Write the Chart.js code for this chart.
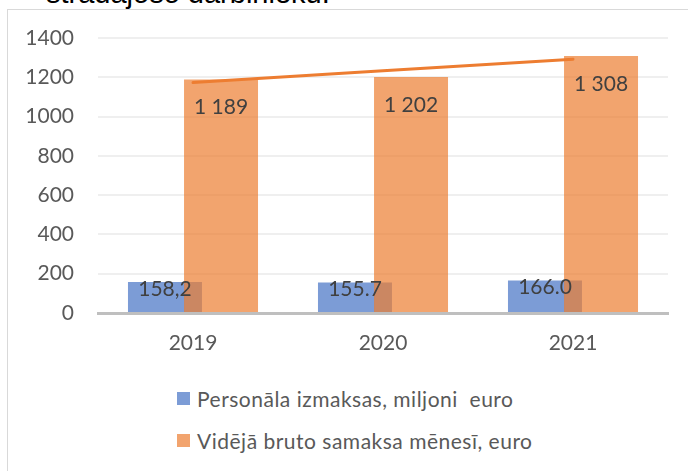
<!DOCTYPE html>
<html>
<head>
<meta charset="utf-8">
<script src="https://cdn.jsdelivr.net/npm/chart.js@4/dist/chart.umd.min.js"></script>
<style>
  html, body { margin: 0; padding: 0; background: #fff; }
  body { width: 688px; height: 471px; overflow: hidden; position: relative; }
  .caption {
    position: absolute; left: 46px; top: -23px;
    font: 29px "Liberation Sans", Arial, sans-serif; color: #000; white-space: nowrap;
  }
  .frame {
    position: absolute; left: 7px; top: 9px; width: 700px; height: 480px;
    border: 1px solid #d9d9d9; box-sizing: border-box; background: #fff;
  }
  .chart-box { position: absolute; left: 0; top: 0; width: 688px; height: 370px; }
  #legend { position: absolute; left: 177px; top: 384px; font: 21px Lato, sans-serif; letter-spacing: 0.5px; color: #595959; }
  #legend .item { display: flex; align-items: center; height: 28px; margin-bottom: 14px; white-space: pre; }
  #legend .swatch { width: 13px; height: 13px; margin-right: 7px; }
</style>
</head>
<body>
<div class="frame"></div>
<div class="caption">strādājošo darbinieku.</div>
<div class="chart-box"><canvas id="myChart"></canvas></div>
<div id="legend"></div>
<script>
const years = ['2019', '2020', '2021'];
const staffCosts = [158.2, 155.7, 166.0];            // miljoni euro
const staffCostLabels = ['158,2', '155.7', '166.0'];
const avgWage = [1189, 1202, 1308];                  // euro mēnesī
const avgWageLabels = ['1 189', '1 202', '1 308'];
const wageTrend = [1173, 1233, 1292];                // trend line
const yTicks = [0, 200, 400, 600, 800, 1000, 1200, 1400];

const FONT = 'Lato, sans-serif';

// draw the blue bars first so the orange ones overlap them
const blueUnder = {
    id: 'blueUnder',
    beforeDatasetsDraw(chart) {
        chart.getDatasetMeta(0).controller.draw();
    },
    beforeDatasetDraw(chart, args) {
        if (args.index === 0) return false;
    }
};

// value labels inside the bars
const barLabels = {
    id: 'barLabels',
    afterDatasetsDraw(chart) {
        const ctx = chart.ctx;
        ctx.save();
        ctx.font = '21px ' + FONT;
        ctx.fillStyle = '#404040';
        ctx.textAlign = 'center';
        ctx.textBaseline = 'middle';
        chart.data.datasets.forEach((ds, i) => {
            if (!ds.valueLabels) return;
            chart.getDatasetMeta(i).data.forEach((bar, j) => {
                ctx.fillText(ds.valueLabels[j], bar.x, bar.y + ds.labelDrop);
            });
        });
        ctx.restore();
    }
};

const ctx = document.getElementById('myChart').getContext('2d');
const myChart = new Chart(ctx, {
    type: 'bar',
    data: {
        labels: years,
        datasets: [{
            label: 'Personāla izmaksas, miljoni  euro',
            data: staffCosts,
            backgroundColor: 'rgba(68, 114, 196, 0.7)',
            valueLabels: staffCostLabels,
            labelDrop: 7
        }, {
            label: 'Vidējā bruto samaksa mēnesī, euro',
            data: avgWage,
            backgroundColor: 'rgba(237, 125, 49, 0.7)',
            valueLabels: avgWageLabels,
            labelDrop: 28
        }, {
            type: 'line',
            label: 'trend',
            data: wageTrend,
            borderColor: '#ED7D31',
            borderWidth: 3,
            borderCapStyle: 'round',
            pointRadius: 0,
            order: -1
        }]
    },
    options: {
        responsive: true,
        maintainAspectRatio: false,
        animation: false,
        categoryPercentage: 0.59,
        barPercentage: 1.32,
        layout: { padding: { left: 0, right: 20, top: 38, bottom: 0 } },
        scales: {
            y: {
                min: 0,
                max: 1400,
                afterFit: scale => { scale.width = 98; },
                afterBuildTicks: scale => { scale.ticks = yTicks.map(v => ({ value: v })); },
                border: { display: false },
                grid: {
                    drawTicks: false,
                    color: c => c.tick.value === 0 ? 'rgba(0,0,0,0)' : '#EFEFEF',
                    lineWidth: 2
                },
                ticks: {
                    color: '#595959',
                    padding: 24,
                    font: { family: FONT, size: 21 },
                    callback: v => String(v)
                }
            },
            x: {
                afterFit: scale => { scale.height = 57; },
                grid: { display: false, drawTicks: false },
                border: { display: true, color: '#BFBFBF', width: 3 },
                ticks: {
                    color: '#595959',
                    padding: 18,
                    font: { family: FONT, size: 21 }
                }
            }
        },
        plugins: {
            legend: { display: false },
            tooltip: { enabled: false }
        }
    },
    plugins: [blueUnder, barLabels]
});

// legend below the chart, one row per bar series
const legendEl = document.getElementById('legend');
myChart.data.datasets.filter(ds => ds.valueLabels).forEach(ds => {
    const row = document.createElement('div');
    row.className = 'item';
    const sw = document.createElement('span');
    sw.className = 'swatch';
    sw.style.background = ds.backgroundColor;
    const txt = document.createElement('span');
    txt.textContent = ds.label;
    row.appendChild(sw);
    row.appendChild(txt);
    legendEl.appendChild(row);
});
</script>
</body>
</html>
